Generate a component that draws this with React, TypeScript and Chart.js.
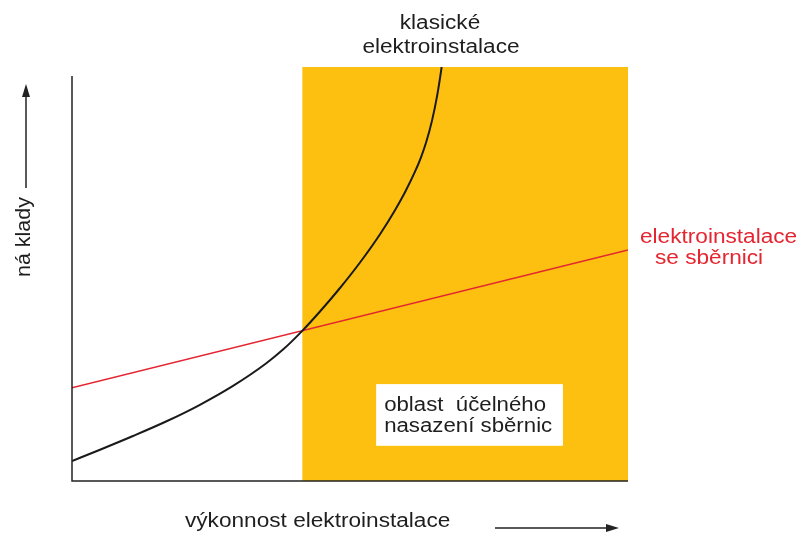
import React, { useEffect, useRef } from "react";
import { Chart, registerables } from "chart.js";

Chart.register(...registerables);

// Values (x: 0..100 performance, y: 0..100 cost)
const classicX = [0, 5.04, 10.97, 16.91, 22.84, 28.96, 34.89, 37.95, 41.37, 44.6, 48.2, 51.8, 55.4, 58.09, 59.89, 61.69, 62.77, 63.67, 64.75, 65.65, 66.37, 66.73];
const classicY = [4.83, 7.56, 10.87, 14.37, 18.29, 22.97, 28.38, 31.74, 36.21, 40.94, 46.62, 52.78, 59.61, 65.41, 69.76, 74.71, 78.19, 81.69, 87.05, 92.92, 98.96, 102.58];
const busX = [0, 100];
const busY = [22.5, 55.8];
const zoneX = [41.4, 100];
const zoneY = [100, 100];
const noteBoxX = [54.7, 88.3];
const noteBoxY = [8.5, 23.4];

const classicLabel = ["klasické", "elektroinstalace"];
const busLabel = ["elektroinstalace", "se sběrnici"];
const noteLabel = ["oblast  účelného", "nasazení sběrnic"];
const xTitle = "výkonnost elektroinstalace";
const yTitle = "ná klady";

const FONT = '"Liberation Sans", Arial, sans-serif';

function stretchText(ctx: CanvasRenderingContext2D, text: string, x: number, y: number, sx: number, align: CanvasTextAlign) {
  ctx.save();
  ctx.translate(x, y);
  ctx.scale(sx, 1);
  ctx.textAlign = align;
  ctx.textBaseline = "alphabetic";
  ctx.fillText(text, 0, 0);
  ctx.restore();
}

const decorPlugin = {
  id: "decor",
  afterDatasetsDraw(chart: any) {
    const ctx: CanvasRenderingContext2D = chart.ctx;
    const xs = chart.scales.x;
    const ys = chart.scales.y;
    const ca = chart.chartArea;
    ctx.save();
    // note box
    const bx1 = xs.getPixelForValue(noteBoxX[0]);
    const bx2 = xs.getPixelForValue(noteBoxX[1]);
    const by1 = ys.getPixelForValue(noteBoxY[1]);
    const by2 = ys.getPixelForValue(noteBoxY[0]);
    ctx.fillStyle = "#ffffff";
    ctx.fillRect(bx1, by1, bx2 - bx1, by2 - by1);
    ctx.fillStyle = "#1e1e1e";
    ctx.font = `19.5px ${FONT}`;
    stretchText(ctx, noteLabel[0], bx1 + 8, by1 + 27, 1.14, "left");
    stretchText(ctx, noteLabel[1], bx1 + 8, by1 + 48, 1.14, "left");

    // axes
    ctx.strokeStyle = "#222";
    ctx.lineWidth = 1.5;
    ctx.beginPath();
    ctx.moveTo(ca.left, ys.getPixelForValue(97.8));
    ctx.lineTo(ca.left, ca.bottom);
    ctx.lineTo(ca.right, ca.bottom);
    ctx.stroke();

    // y arrow
    ctx.fillStyle = "#222";
    ctx.beginPath();
    ctx.moveTo(26, 188);
    ctx.lineTo(26, 94);
    ctx.stroke();
    ctx.beginPath();
    ctx.moveTo(26, 84);
    ctx.lineTo(22, 97);
    ctx.lineTo(30, 97);
    ctx.closePath();
    ctx.fill();

    // x arrow
    ctx.beginPath();
    ctx.moveTo(495, 528);
    ctx.lineTo(608, 528);
    ctx.stroke();
    ctx.beginPath();
    ctx.moveTo(619, 528);
    ctx.lineTo(606, 524);
    ctx.lineTo(606, 532);
    ctx.closePath();
    ctx.fill();

    // titles
    ctx.fillStyle = "#1e1e1e";
    ctx.font = `19.5px ${FONT}`;
    stretchText(ctx, xTitle, 185, 527, 1.16, "left");
    ctx.save();
    ctx.translate(30, 237);
    ctx.rotate(-Math.PI / 2);
    stretchText(ctx, yTitle, 0, 0, 1.1, "center");
    ctx.restore();

    stretchText(ctx, classicLabel[0], 440, 29, 1.16, "center");
    stretchText(ctx, classicLabel[1], 441, 53, 1.16, "center");

    ctx.fillStyle = "#e52530";
    stretchText(ctx, busLabel[0], 640, 243, 1.16, "left");
    stretchText(ctx, busLabel[1], 655, 264, 1.16, "left");
    ctx.restore();
  },
};

export default function App() {
  const ref = useRef<HTMLCanvasElement | null>(null);
  useEffect(() => {
    document.body.style.margin = "0";
    const canvas = ref.current!;
    const chart = new Chart(canvas, {
      type: "line",
      data: {
        datasets: [
          {
            label: "klasické elektroinstalace",
            data: classicX.map((x, i) => ({ x, y: classicY[i] })),
            borderColor: "#1a1a1a",
            borderWidth: 2,
            pointRadius: 0,
            cubicInterpolationMode: "monotone",
            fill: false,
            order: 1,
          },
          {
            label: "elektroinstalace se sběrnici",
            data: busX.map((x, i) => ({ x, y: busY[i] })),
            borderColor: "#e52530",
            borderWidth: 1.5,
            pointRadius: 0,
            fill: false,
            order: 2,
          },
          {
            label: "oblast účelného nasazení sběrnic",
            data: zoneX.map((x, i) => ({ x, y: zoneY[i] })),
            borderWidth: 0,
            borderColor: "rgba(0,0,0,0)",
            backgroundColor: "#fdc010",
            pointRadius: 0,
            fill: "origin",
            order: 3,
          },
        ],
      },
      options: {
        responsive: false,
        animation: false,
        layout: { padding: { left: 72, right: 172, top: 67, bottom: 57 } },
        plugins: { legend: { display: false }, tooltip: { enabled: false }, title: { display: false } },
        scales: {
          x: { type: "linear", min: 0, max: 100, display: false },
          y: { type: "linear", min: 0, max: 100, display: false },
        },
      },
      plugins: [decorPlugin],
    } as any);
    return () => chart.destroy();
  }, []);
  return (
    <div style={{ width: 800, height: 538 }}>
      <canvas ref={ref} width={800} height={538} style={{ display: "block" }} />
    </div>
  );
}
